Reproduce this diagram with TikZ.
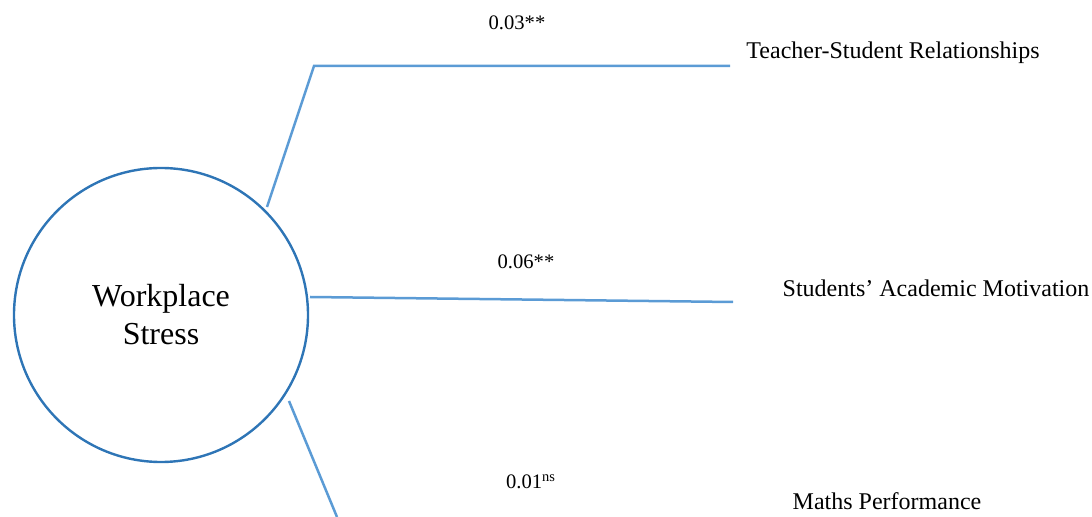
\documentclass[tikz,border=0pt]{standalone}
\usepackage{fontspec}
\setmainfont{Liberation Serif}
\definecolor{ringblue}{HTML}{2E75B6}
\definecolor{pathblue}{HTML}{5B9BD5}
\begin{document}
\begin{tikzpicture}[x=0.5pt,y=-0.5pt]
		\tikzstyle{every node}=[font=\fontsize{12pt}{14pt}\selectfont, inner sep=0pt]
		\tikzstyle{coef}=[font=\fontsize{10.3pt}{12pt}\selectfont, anchor=base]
		\tikzstyle{outcome}=[anchor=base]
		\tikzstyle{path}=[pathblue, line width=1.25pt]
		
		\useasboundingbox (0,0) rectangle (1092,517);
		
		% latent construct
		\node[circle, draw=ringblue, line width=1.2pt, minimum size=147pt, align=center,
		font=\fontsize{16pt}{19pt}\selectfont] (stress) at (161,315) {Workplace\\Stress};
		
		% outcomes
		\node[outcome] (tsr) at (893,59) {Teacher-Student Relationships};
		\node[outcome] (sam) at (936,297) {Students’ Academic Motivation};
		\node[outcome] (math) at (887,510) {Maths Performance};
		
		% path coefficients
		\node[coef] (c1) at (517,30) {0.03**};
		\node[coef] (c2) at (526,269) {0.06**};
		\node[coef] (c3) at (531,489) {0.01\textsuperscript{ns}};
		
		% connectors
		\coordinate (a1) at (267,207);
		\coordinate (b1) at (314,66);
		\coordinate (e1) at (730,66);
		\coordinate (a2) at (310,297);
		\coordinate (e2) at (733,302);
		\coordinate (a3) at (289,401);
		\coordinate (e3) at (337,517);
		
		\draw[path] (a1) -- (b1) -- (e1);
		\draw[path] (a2) -- (e2);
		\draw[path] (a3) -- (e3);
		
	\end{tikzpicture}
\end{document}
